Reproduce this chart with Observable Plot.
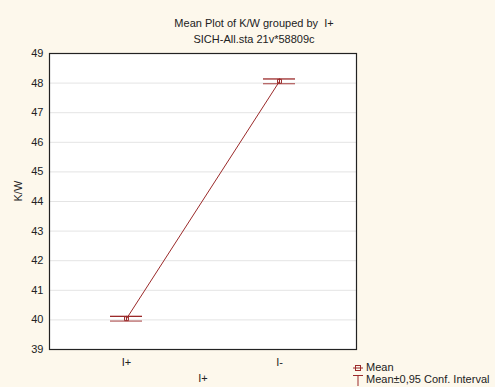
<!DOCTYPE html>
<html>
<head>
<meta charset="utf-8">
<script src="https://cdn.jsdelivr.net/npm/d3@7"></script>
<script src="https://cdn.jsdelivr.net/npm/@observablehq/plot@0.6"></script>
<style>
  html, body { margin: 0; padding: 0; }
  body { width: 495px; height: 387px; overflow: hidden; background: #fdf8ec; font-family: Arial, "Liberation Sans", sans-serif; }
  #wrap { position: relative; width: 495px; height: 387px; }
  #chart { position: absolute; left: 0; top: 0; }
  .title { position: absolute; left: 0; width: 508px; text-align: center; font-size: 11px; color: #222; }
  .legend { position: absolute; left: 352px; font-size: 11px; color: #222; white-space: nowrap; }
  .legend svg { vertical-align: middle; margin-right: 2px; }
</style>
</head>
<body>
<div id="wrap">
  <div id="chart"></div>
  <div class="title" style="top:17px">Mean Plot of K/W grouped by&nbsp; I+</div>
  <div class="title" style="top:33px">SICH-All.sta 21v*58809c</div>
  <div class="legend" style="top:361px"><svg width="12" height="10"><line x1="1" x2="11" y1="5" y2="5" stroke="#9b2a2a"/><rect x="3.5" y="2.5" width="5" height="5" fill="none" stroke="#9b2a2a"/></svg>Mean</div>
  <div class="legend" style="top:373px"><svg width="12" height="12"><line x1="1" x2="11" y1="1.5" y2="1.5" stroke="#9b2a2a"/><line x1="6" x2="6" y1="1.5" y2="12" stroke="#9b2a2a"/></svg>Mean±0,95 Conf. Interval</div>
</div>
<script>
const groups = ["I+", "I-"];
const means = [40.04, 48.06];
const lower = [39.96, 47.98];
const upper = [40.12, 48.14];
const yTicks = [39, 40, 41, 42, 43, 44, 45, 46, 47, 48, 49];

const data = groups.map((g, i) => ({group: g, mean: means[i], lo: lower[i], hi: upper[i]}));
const red = "#9b2a2a";

const chart = Plot.plot({
  width: 495,
  height: 387,
  marginLeft: 49,
  marginRight: 139,
  marginTop: 53,
  marginBottom: 38,
  style: {background: "transparent", fontFamily: "Arial, 'Liberation Sans', sans-serif", fontSize: "11px", color: "#222"},
  x: {type: "band", domain: groups, paddingInner: 0.7915, paddingOuter: 0.39575, label: null},
  y: {domain: [39, 49], ticks: yTicks, label: null},
  marks: [
    Plot.frame({fill: "white", stroke: "none"}),
    Plot.gridY(yTicks.slice(1, -1), {stroke: "#e4e4e4", strokeOpacity: 1}),
    Plot.axisY(yTicks, {tickSize: 0, tickPadding: 6, fontSize: 11, label: null}),
    Plot.axisX({tickSize: 0, tickPadding: 9, fontSize: 11, label: null}),
    Plot.line(data, {x: "group", y: "mean", stroke: red, strokeWidth: 1}),
    Plot.ruleX(data, {x: "group", y1: "lo", y2: "hi", stroke: red}),
    Plot.tickY(data, {x: "group", y: "hi", stroke: red, strokeWidth: 1.3}),
    Plot.tickY(data, {x: "group", y: "lo", stroke: red, strokeWidth: 1.3, strokeOpacity: 0.7}),
    Plot.dot(data, {x: "group", y: "mean", symbol: "square", r: 2.2, stroke: red, fill: "none", strokeWidth: 1}),
    Plot.frame({stroke: "#222", strokeWidth: 1.2}),
    Plot.text(["K/W"], {frameAnchor: "left", rotate: -90, dx: -31, fontSize: 11}),
    Plot.text(["I+"], {frameAnchor: "bottom", dy: 32, fontSize: 11})
  ]
});
document.getElementById("chart").append(chart);
</script>
</body>
</html>
